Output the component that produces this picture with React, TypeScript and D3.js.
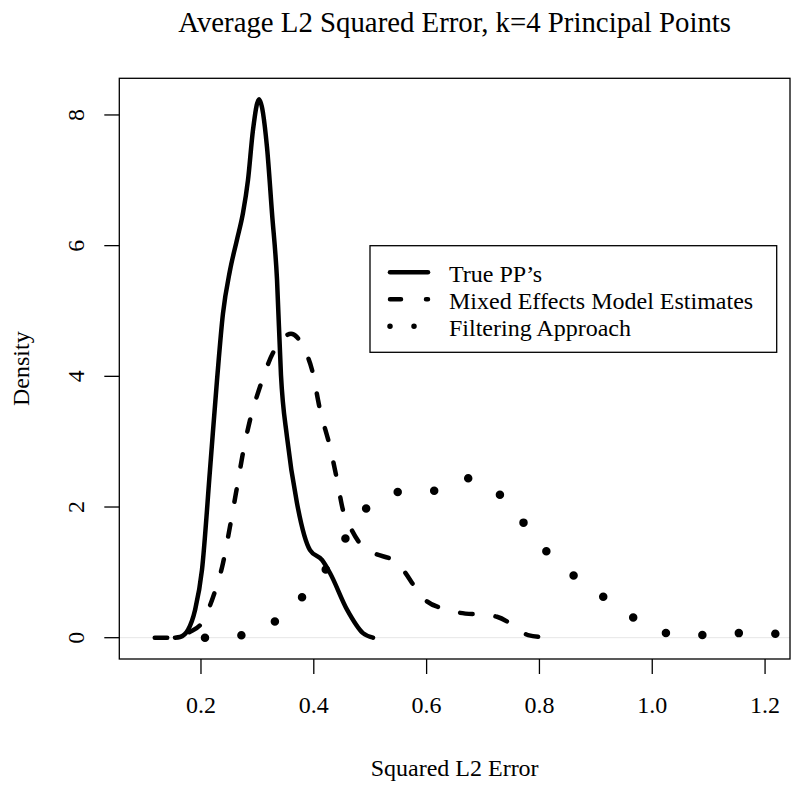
import React, { useLayoutEffect, useRef, useState } from "react";
import * as d3 from "d3";

const TITLE = "Average L2 Squared Error, k=4 Principal Points";
const X_LABEL = "Squared L2 Error";
const Y_LABEL = "Density";
const X_TICKS = [0.2, 0.4, 0.6, 0.8, 1.0, 1.2];
const Y_TICKS = [0, 2, 4, 6, 8];
const SERIES_NAMES = ["True PP\u2019s", "Mixed Effects Model Estimates", "Filtering Approach"];

// True PP's density (solid)
const trueX = [0.1539, 0.1628, 0.177, 0.1894, 0.2018, 0.216, 0.2284, 0.239, 0.2514, 0.2638, 0.2745, 0.2833, 0.2922, 0.3028, 0.317, 0.3259, 0.3348, 0.3418, 0.3525, 0.3702, 0.3933, 0.4145, 0.4287, 0.4589, 0.4872, 0.505];
const trueY = [0, 0.01, 0.12, 0.42, 1.04, 2.57, 3.94, 4.96, 5.62, 6.09, 6.5, 7.0, 7.77, 8.24, 7.51, 6.5, 5.48, 4.02, 3.07, 2.06, 1.34, 1.19, 0.99, 0.43, 0.07, 0];

// Mixed effects model estimates density (dashed)
const mixedX = [0.118, 0.145, 0.1628, 0.1805, 0.2018, 0.2213, 0.239, 0.2514, 0.2638, 0.2745, 0.2869, 0.3046, 0.3277, 0.3401, 0.3596, 0.3702, 0.3809, 0.3968, 0.411, 0.4287, 0.4411, 0.4518, 0.4642, 0.4872, 0.505, 0.5475, 0.5582, 0.583, 0.5972, 0.6362, 0.6592, 0.7, 0.7248, 0.7603, 0.7798, 0.8188];
const mixedY = [0, 0, 0.03, 0.09, 0.23, 0.62, 1.14, 1.7, 2.3, 2.83, 3.33, 3.84, 4.36, 4.53, 4.65, 4.6, 4.45, 4.1, 3.49, 2.92, 2.42, 1.95, 1.7, 1.39, 1.3, 1.15, 1.04, 0.73, 0.58, 0.43, 0.38, 0.35, 0.32, 0.15, 0.04, 0];

// Filtering approach density (dotted)
const filterX = [0.2071, 0.2727, 0.3312, 0.3791, 0.4216, 0.4571, 0.4943, 0.5493, 0.6131, 0.6734, 0.7284, 0.7709, 0.8117, 0.8596, 0.9128, 0.966, 1.0245, 1.0901, 1.1539, 1.2195];
const filterY = [0, 0.04, 0.25, 0.62, 1.05, 1.53, 1.99, 2.23, 2.25, 2.44, 2.2, 1.77, 1.33, 0.96, 0.63, 0.31, 0.07, 0.04, 0.07, 0.06];

const W = 800;
const H = 785;
const BOX = { left: 119.3, right: 790, top: 78.3, bottom: 659 };
const FONT = "'Liberation Serif', 'Times New Roman', serif";

export default function App() {
  const x = d3.scaleLinear().domain([0.0552, 1.2442]).range([BOX.left, BOX.right]);
  const y = d3.scaleLinear().domain([-0.326, 8.561]).range([BOX.bottom, BOX.top]);

  const line = d3
    .line<[number, number]>()
    .x((d) => x(d[0]))
    .y((d) => y(d[1]))
    .curve(d3.curveMonotoneX);

  const truePath = line(trueX.map((v, i) => [v, trueY[i]]) as [number, number][]) || "";
  const mixedPath = line(mixedX.map((v, i) => [v, mixedY[i]]) as [number, number][]) || "";
  const filterPath = line(filterX.map((v, i) => [v, filterY[i]]) as [number, number][]) || "";

  const dotRef = useRef<SVGPathElement>(null);
  const [dotGap, setDotGap] = useState(36.5);
  useLayoutEffect(() => {
    if (dotRef.current) {
      const L = dotRef.current.getTotalLength();
      setDotGap((L - 1) / (filterX.length - 1));
    }
  }, []);

  const cx = (BOX.left + BOX.right) / 2;
  const cy = (BOX.top + BOX.bottom) / 2;

  const legendRows = [272.3, 299.3, 326.3];

  return (
    <svg
      width={W}
      height={H}
      style={{ position: "absolute", left: 0, top: 0, display: "block", background: "#fff" }}
      fontFamily={FONT}
    >
      <defs>
        <clipPath id="plotclip">
          <rect x={BOX.left} y={BOX.top} width={BOX.right - BOX.left} height={BOX.bottom - BOX.top} />
        </clipPath>
      </defs>
      <rect x={0} y={0} width={W} height={H} fill="#fff" />

      {/* title */}
      <text x={cx} y={31.5} textAnchor="middle" fontSize={28.8} fill="#000">
        {TITLE}
      </text>

      {/* zero baseline */}
      <line x1={BOX.left} x2={BOX.right} y1={y(0)} y2={y(0)} stroke="#e6e6e6" strokeWidth={1} />

      {/* curves */}
      <g clipPath="url(#plotclip)" fill="none" stroke="#000">
        <path d={truePath} strokeWidth={4.5} strokeLinejoin="round" strokeLinecap="round" />
        <path d={mixedPath} strokeWidth={4.5} strokeLinejoin="round" strokeLinecap="round" strokeDasharray="12.5 23" />
        <path ref={dotRef} d={filterPath} strokeWidth={8.5} strokeLinecap="round" strokeDasharray={`0 ${dotGap}`} />
      </g>

      {/* box */}
      <rect
        x={BOX.left}
        y={BOX.top}
        width={BOX.right - BOX.left}
        height={BOX.bottom - BOX.top}
        fill="none"
        stroke="#000"
        strokeWidth={1.3}
      />

      {/* x axis */}
      {X_TICKS.map((t) => (
        <g key={"x" + t}>
          <line x1={x(t)} x2={x(t)} y1={BOX.bottom} y2={BOX.bottom + 15} stroke="#000" strokeWidth={1.3} />
          <text x={x(t)} y={713} textAnchor="middle" fontSize={24} fill="#000">
            {t.toFixed(1)}
          </text>
        </g>
      ))}
      <text x={cx} y={776} textAnchor="middle" fontSize={24} fill="#000">
        {X_LABEL}
      </text>

      {/* y axis */}
      {Y_TICKS.map((t) => (
        <g key={"y" + t}>
          <line x1={BOX.left - 15} x2={BOX.left} y1={y(t)} y2={y(t)} stroke="#000" strokeWidth={1.3} />
          <text
            transform={`translate(84,${y(t)}) rotate(-90)`}
            textAnchor="middle"
            fontSize={24}
            fill="#000"
          >
            {String(t)}
          </text>
        </g>
      ))}
      <text transform={`translate(29,${cy}) rotate(-90)`} textAnchor="middle" fontSize={24} fill="#000">
        {Y_LABEL}
      </text>

      {/* legend */}
      <rect x={370} y={245.7} width={406.7} height={106.6} fill="#fff" stroke="#000" strokeWidth={1.3} />
      <line x1={390} x2={428} y1={legendRows[0]} y2={legendRows[0]} stroke="#000" strokeWidth={4.5} strokeLinecap="round" />
      <line
        x1={390}
        x2={428}
        y1={legendRows[1]}
        y2={legendRows[1]}
        stroke="#000"
        strokeWidth={4.5}
        strokeLinecap="round"
        strokeDasharray="11 25"
      />
      <line
        x1={390}
        x2={428}
        y1={legendRows[2]}
        y2={legendRows[2]}
        stroke="#000"
        strokeWidth={5.5}
        strokeLinecap="round"
        strokeDasharray="0 24"
      />
      {SERIES_NAMES.map((n, i) => (
        <text key={n} x={449} y={legendRows[i] + 9.4} fontSize={24} fill="#000">
          {n}
        </text>
      ))}
    </svg>
  );
}
